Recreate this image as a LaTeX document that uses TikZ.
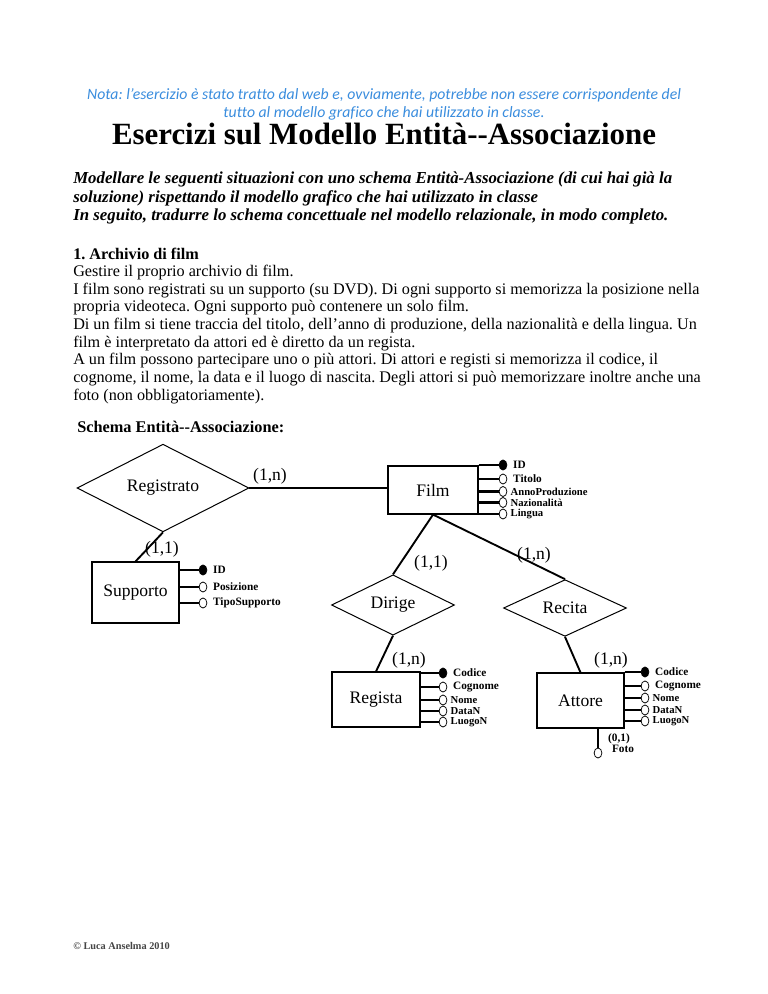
\documentclass[tikz,border=0pt]{standalone}
\usepackage{fontspec}
\setmainfont{Liberation Serif}
\newfontfamily\notafont[Ligatures={NoCommon}]{Carlito}
\usetikzlibrary{shapes.geometric}
\definecolor{notaBlue}{HTML}{3A8DDE}
\definecolor{footGray}{HTML}{444444}
\frenchspacing
\tikzset{
  entity/.style ={draw, line width=0.9pt, font=\fontsize{14}{16}\selectfont, inner sep=0pt},
  rel/.style    ={draw, diamond, line width=0.8pt, font=\fontsize{14}{16}\selectfont, inner sep=0pt},
  attr/.style   ={draw, ellipse, minimum width=6.2pt, minimum height=8pt, inner sep=0pt, fill=white, line width=0.6pt},
  key/.style    ={attr, fill=black},
  link/.style   ={line width=1.5pt},
  alink/.style  ={line width=2.1pt},
  card/.style   ={font=\fontsize{14}{16}\selectfont, inner sep=0pt},
  alabel/.style ={font=\fontsize{9}{10}\selectfont\bfseries, inner sep=0pt, label distance=4.5pt},
  near/.style   ={alabel, font=\fontsize{8.5}{9}\selectfont\bfseries, label distance=2.5pt},
  para/.style   ={align=left, inner sep=0pt, anchor=north west},
}

\begin{document}
\begin{tikzpicture}[x=0.796875pt, y=-0.796875pt]
  \fill[white] (0,0) rectangle (768,994);
  \useasboundingbox (0,0) rectangle (768,994);

  % page text
  \node[font=\notafont\itshape\fontsize{12.55}{14.2}\selectfont, text=notaBlue, align=center, anchor=north, inner sep=0pt] (nota) at (384,88.5)
    {Nota: l’esercizio è stato tratto dal web e, ovviamente, potrebbe non essere corrispondente del\\
     tutto al modello grafico che hai utilizzato in classe.};
  \node[font=\bfseries\fontsize{24.6}{28}\selectfont, anchor=base, inner sep=0pt] (titolo) at (384,144.5)
    {Esercizi sul Modello Entità{-}{-}Associazione};
  \node[para, font=\bfseries\itshape\fontsize{13.4}{14.6}\selectfont] (consegna) at (73,172)
    {Modellare le seguenti situazioni con uno schema Entità-Associazione (di cui hai già la\\
     soluzione) rispettando il modello grafico che hai utilizzato in classe\\
     In seguito, tradurre lo schema concettuale nel modello relazionale, in modo completo.};
  \node[para, font=\fontsize{12.9}{14.03}\selectfont] (testo) at (73,247.5)
    {\textbf{1. Archivio di film}\\
     Gestire il proprio archivio di film.\\
     I film sono registrati su un supporto (su DVD). Di ogni supporto si memorizza la posizione nella\\
     propria videoteca. Ogni supporto può contenere un solo film.\\
     Di un film si tiene traccia del titolo, dell’anno di produzione, della nazionalità e della lingua. Un\\
     film è interpretato da attori ed è diretto da un regista.\\
     A un film possono partecipare uno o più attori. Di attori e registi si memorizza il codice, il\\
     cognome, il nome, la data e il luogo di nascita. Degli attori si può memorizzare inoltre anche una\\
     foto (non obbligatoriamente).};
  \node[font=\bfseries\fontsize{13}{15}\selectfont, anchor=base west, inner sep=0pt] (schema) at (77,432)
    {Schema Entità{-}{-}Associazione:};

  % entities and relationships
  \node[entity, minimum width=71.7pt, minimum height=38.3pt] (film)     at (433,490)   {Film};
  \node[entity, minimum width=69.3pt, minimum height=48.6pt] (supporto) at (135.5,592.5) {Supporto};
  \node[entity, minimum width=70.1pt, minimum height=43.8pt] (regista)  at (376,699.5) {Regista};
  \node[entity, minimum width=69.3pt, minimum height=43.8pt] (attore)   at (580.5,700.5) {Attore};
  \node[rel, minimum width=137pt, minimum height=51pt]   (registrato) at (163,488) {Registrato};
  \node[rel, minimum width=98pt,  minimum height=37.5pt] (dirige)     at (393,605) {Dirige};
  \node[rel, minimum width=98pt,  minimum height=39pt]   (recita)     at (565,608) {Recita};

  \draw[link] (registrato.east) -- (registrato.east -| film.west);
  \draw[link] (registrato.south) -- (supporto.north);
  \draw[link] (film.south) -- (dirige.north);
  \draw[link] (film.south) -- (recita.north);
  \draw[link] (dirige.south) -- (regista.north);
  \draw[link] (recita.south) -- (attore.north);

  % cardinalities
  \node[card] (cRegFilm) at (270,476) {(1,n)};
  \node[card] (cRegSup)  at (162,549) {(1,1)};
  \node[card] (cDirFilm) at (431,563) {(1,1)};
  \node[card] (cRecFilm) at (534,555) {(1,n)};
  \node[card] (cDirReg)  at (409,660) {(1,n)};
  \node[card] (cRecAtt)  at (611,660) {(1,n)};

  % attributes of Film
  \node[key,  label={[alabel]right:ID}]            (fId)   at (503,465) {};
  \node[attr, label={[alabel]right:Titolo}]        (fTit)  at (503,479) {};
  \node[attr, label={[near]right:AnnoProduzione}]  (fAnno) at (503,491.5) {};
  \node[attr, label={[near]right:Nazionalità}]     (fNaz)  at (503,502.5) {};
  \node[attr, label={[near]right:Lingua}]          (fLin)  at (503,514) {};
  \draw[alink] (film.east |- fId) -- (fId)  (film.east |- fTit) -- (fTit)
               (film.east |- fAnno) -- (fAnno)  (film.east |- fNaz) -- (fNaz)
               (film.east |- fLin) -- (fLin);

  % attributes of Supporto
  \node[key,  label={[alabel]right:ID}]           (sId)   at (203,570) {};
  \node[attr, label={[alabel]right:Posizione}]    (sPos)  at (203,587) {};
  \node[attr, label={[alabel]right:TipoSupporto}] (sTipo) at (203,603) {};
  \draw[alink] (supporto.east |- sId) -- (sId)  (supporto.east |- sPos) -- (sPos)
               (supporto.east |- sTipo) -- (sTipo);

  % attributes of Regista
  \node[key,  label={[alabel]right:Codice}]  (rCod)  at (443,673) {};
  \node[attr, label={[alabel]right:Cognome}] (rCog)  at (443,687) {};
  \node[attr, label={[near]right:Nome}]      (rNome) at (443,700) {};
  \node[attr, label={[near]right:DataN}]     (rData) at (443,711) {};
  \node[attr, label={[near]right:LuogoN}]    (rLuogo) at (443,722) {};
  \draw[alink] (regista.east |- rCod) -- (rCod)  (regista.east |- rCog) -- (rCog)
               (regista.east |- rNome) -- (rNome)  (regista.east |- rData) -- (rData)
               (regista.east |- rLuogo) -- (rLuogo);

  % attributes of Attore
  \node[key,  label={[alabel]right:Codice}]  (aCod)  at (645,672) {};
  \node[attr, label={[alabel]right:Cognome}] (aCog)  at (645,686) {};
  \node[attr, label={[near]right:Nome}]      (aNome) at (645,698) {};
  \node[attr, label={[near]right:DataN}]     (aData) at (645,710) {};
  \node[attr, label={[near]right:LuogoN}]    (aLuogo) at (645,721) {};
  \draw[alink] (attore.east |- aCod) -- (aCod)  (attore.east |- aCog) -- (aCog)
               (attore.east |- aNome) -- (aNome)  (attore.east |- aData) -- (aData)
               (attore.east |- aLuogo) -- (aLuogo);
  \node[attr] (aFoto) at (598,753) {};
  \draw[alink] (attore.south -| aFoto) -- (aFoto);
  \node[alabel] (cFoto) at (619,739) {(0,1)};
  \node[alabel] (lFoto) at (623,749) {Foto};

  % footer
  \node[font=\bfseries\fontsize{8.2}{9}\selectfont, text=footGray, anchor=base west, inner sep=0pt] (copia) at (73,949)
    {© Luca Anselma 2010};
\end{tikzpicture}
\end{document}
